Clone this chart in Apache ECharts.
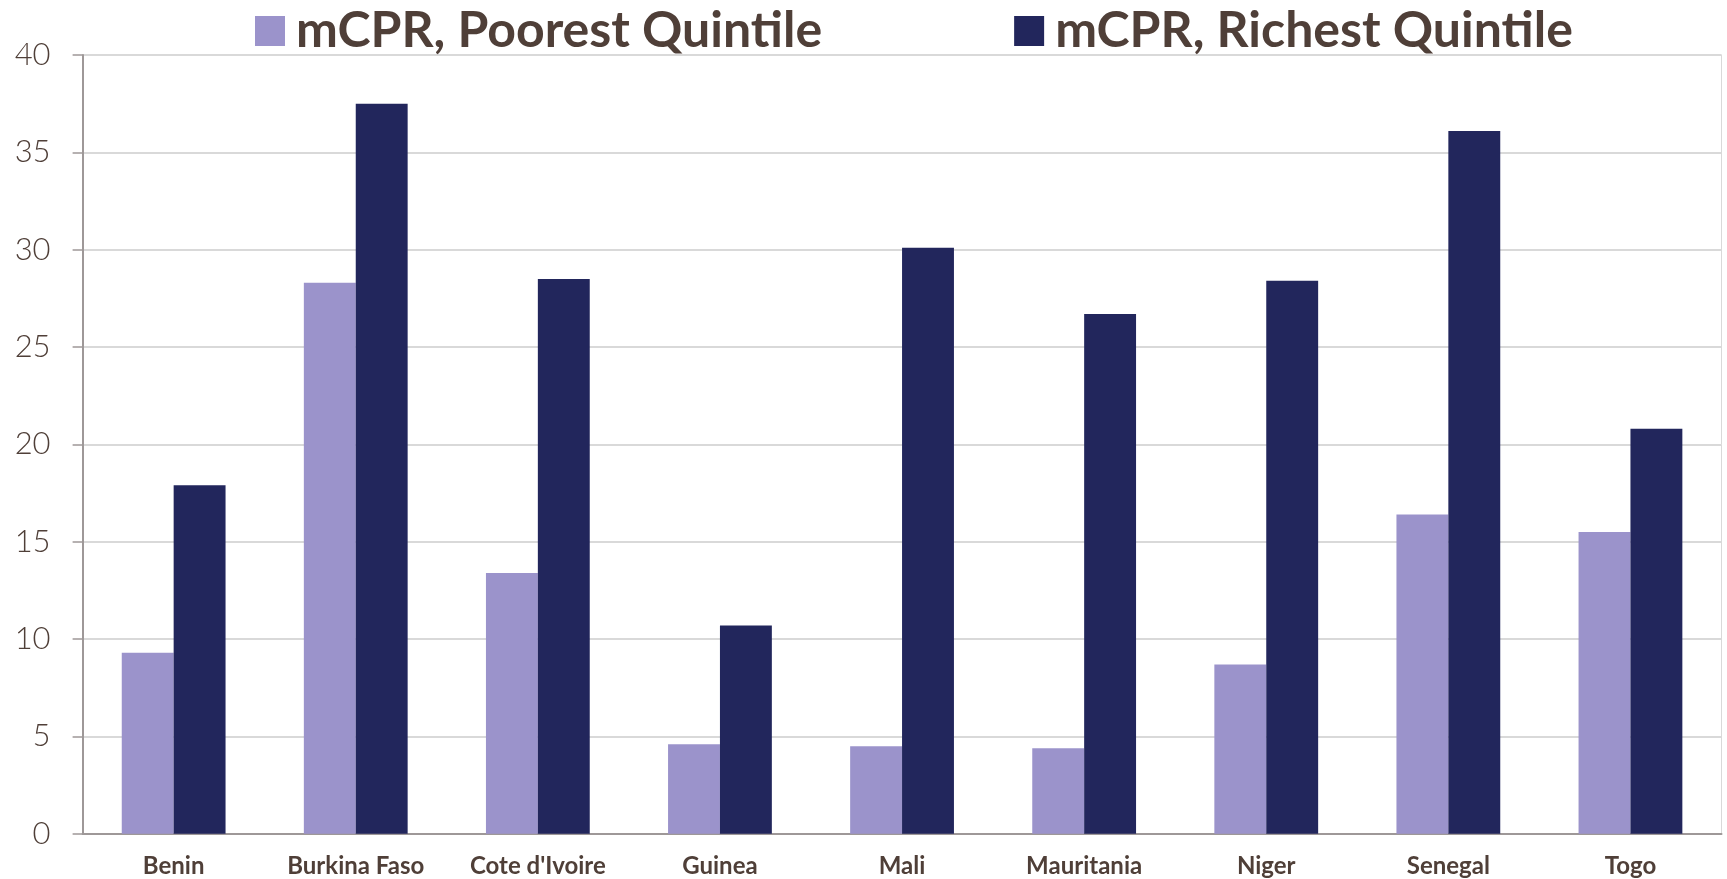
<!DOCTYPE html>
<html>
<head>
<meta charset="utf-8">
<title>mCPR by wealth quintile</title>
<script src="https://cdn.jsdelivr.net/npm/echarts@6/dist/echarts.min.js"></script>
<style>
  html, body { margin: 0; padding: 0; background: #ffffff; }
  #chart { width: 1727px; height: 879px; }
</style>
</head>
<body>
<div id="chart"></div>
<script>
// Countries along the x axis
const countries = ['Benin', 'Burkina Faso', "Cote d'Ivoire", 'Guinea', 'Mali', 'Mauritania', 'Niger', 'Senegal', 'Togo'];
// Modern contraceptive prevalence rate (%) by wealth quintile
const poorestQuintile = [9.3, 28.3, 13.4, 4.6, 4.5, 4.4, 8.7, 16.4, 15.5];
const richestQuintile = [17.9, 37.5, 28.5, 10.7, 30.1, 26.7, 28.4, 36.1, 20.8];
const seriesNames = ['mCPR, Poorest Quintile', 'mCPR, Richest Quintile'];

const textColor = '#4f3f38';
const chart = echarts.init(document.getElementById('chart'), null, { renderer: 'canvas' });

chart.setOption({
  animation: false,
  backgroundColor: '#ffffff',
  legend: {
    left: 250,
    top: 1,
    itemWidth: 30,
    itemHeight: 30,
    itemGap: 192,
    icon: 'rect',
    textStyle: {
      fontFamily: 'Lato, "Open Sans", sans-serif',
      fontWeight: 'bold',
      fontSize: 50,
      color: textColor,
      padding: [0, 0, 0, 6]
    },
    data: seriesNames
  },
  grid: {
    left: 82.6,
    right: 5.5,
    top: 55,
    bottom: 45.2,
    show: true,
    borderColor: '#d9d9d9',
    borderWidth: 1,
    containLabel: false
  },
  xAxis: {
    type: 'category',
    data: countries,
    axisLine: { show: true, lineStyle: { color: '#9e9898', width: 2 } },
    axisTick: { show: false },
    axisLabel: {
      margin: 20,
      fontFamily: 'Lato, "Open Sans", sans-serif',
      fontWeight: 'bold',
      fontSize: 24,
      color: textColor
    }
  },
  yAxis: {
    type: 'value',
    min: 0,
    max: 40,
    interval: 5,
    axisLine: { show: true, lineStyle: { color: '#9e9898', width: 2 } },
    axisTick: { show: true, length: 10, lineStyle: { color: '#9e9898', width: 1.5 } },
    splitLine: { show: true, lineStyle: { color: '#d9d9d9', width: 2 } },
    axisLabel: {
      margin: 32,
      fontFamily: 'Lato, "Open Sans", sans-serif',
      fontWeight: 300,
      fontSize: 31,
      color: textColor
    }
  },
  series: [
    {
      name: seriesNames[0],
      type: 'bar',
      data: poorestQuintile,
      barGap: '0%',
      barCategoryGap: '43%',
      itemStyle: { color: '#9b93cb' }
    },
    {
      name: seriesNames[1],
      type: 'bar',
      data: richestQuintile,
      barGap: '0%',
      barCategoryGap: '43%',
      itemStyle: { color: '#22265c' }
    }
  ]
});
</script>
</body>
</html>
